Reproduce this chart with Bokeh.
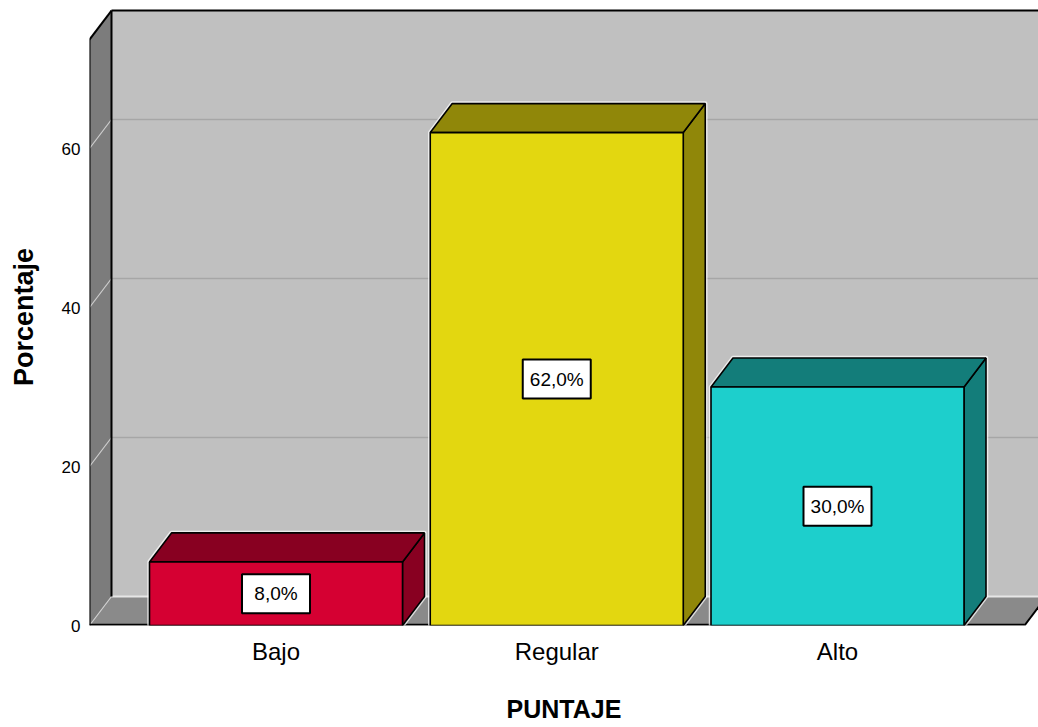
from bokeh.plotting import figure
from bokeh.models import Range1d, FixedTicker
from bokeh.core.properties import value
from bokeh.embed import file_html
from bokeh.resources import INLINE

# ---- data ----
categories = ["Bajo", "Regular", "Alto"]
percentages = [8.0, 62.0, 30.0]
front_colors = ["#D50032", "#E3D710", "#1DCFCC"]
dark_colors = ["#880021", "#908709", "#137D7A"]
y_ticks = [0, 20, 40, 60]

# ---- geometry (style constants) ----
PX_X = 280.75
PX_Y = 7.95
X_START = 0.3357
X_END = X_START + 949 / PX_X
Y_END = 617 / PX_Y
DX = 22 / PX_X
DY = 29 / PX_Y
BAR_W = 253 / PX_X
WALL_TOP = 73.7
FLOOR_END = X_START + 935 / PX_X

positions = list(range(1, len(categories) + 1))

p = figure(width=1038, height=727,
           x_range=Range1d(X_START, X_END), y_range=Range1d(0, Y_END),
           output_backend="svg", toolbar_location=None,
           min_border_left=89, min_border_right=0,
           min_border_top=8, min_border_bottom=102)
p.outline_line_color = None
p.background_fill_color = "white"
p.border_fill_color = "white"
p.xgrid.visible = False
p.ygrid.visible = False

# back wall
p.quad(left=[X_START + DX], right=[X_END + 1], bottom=[DY], top=[WALL_TOP + DY],
       fill_color="#C0C0C0", line_color=None)
# back wall grid lines
p.multi_line(xs=[[X_START + DX, X_END + 1] for v in y_ticks[1:]],
             ys=[[v + DY, v + DY] for v in y_ticks[1:]],
             line_color="#A6A6A6", line_width=1.5)
# left wall
p.patch(x=[X_START, X_START, X_START + DX, X_START + DX],
        y=[0, WALL_TOP, WALL_TOP + DY, DY],
        fill_color="#7C7C7C", line_color=None)
# floor
p.patch(x=[X_START, FLOOR_END, FLOOR_END + DX, X_START + DX],
        y=[0, 0, DY, DY],
        fill_color="#8A8A8A", line_color=None)
# left wall grid lines
p.multi_line(xs=[[X_START, X_START + DX] for v in y_ticks],
             ys=[[v, v + DY] for v in y_ticks],
             line_color="#CFCFCF", line_width=1.2)
# back wall/floor seam highlight
p.line(x=[X_START + DX, X_END + 1], y=[DY, DY], line_color="#E6E6E6", line_width=2)

# black edges
edges_x = [
    [X_START + DX, X_START + DX],
    [X_START + DX, X_END + 1],
    [X_START, X_START + DX],
    [X_START, X_START],
    [X_START, FLOOR_END],
    [FLOOR_END, FLOOR_END + DX],
]
edges_y = [
    [DY, WALL_TOP + DY],
    [WALL_TOP + DY, WALL_TOP + DY],
    [WALL_TOP, WALL_TOP + DY],
    [0, WALL_TOP],
    [0.1, 0.1],
    [0, DY],
]
p.multi_line(xs=edges_x, ys=edges_y, line_color="black", line_width=2)

# bars
halo_x, halo_y = [], []
front_x, front_y, top_x, top_y, side_x, side_y = [], [], [], [], [], []
for c, v in zip(positions, percentages):
    l, r = c - BAR_W / 2, c + BAR_W / 2
    halo_x.append([l, r, r + DX, r + DX, l + DX, l, l])
    halo_y.append([0, 0, DY, v + DY, v + DY, v, 0])
    front_x.append([l, r, r, l])
    front_y.append([0, 0, v, v])
    top_x.append([l, r, r + DX, l + DX])
    top_y.append([v, v, v + DY, v + DY])
    side_x.append([r, r + DX, r + DX, r])
    side_y.append([0, DY, v + DY, v])

p.patches(xs=halo_x, ys=halo_y, fill_color=None, line_color="white",
          line_width=4.5, line_alpha=0.7, line_join="round")
p.patches(xs=side_x, ys=side_y, fill_color=dark_colors, line_color="black", line_width=1.6)
p.patches(xs=top_x, ys=top_y, fill_color=dark_colors, line_color="black", line_width=1.6)
p.patches(xs=front_x, ys=front_y, fill_color=front_colors, line_color="black", line_width=1.6)

# value labels
label_y = [v / 2 for v in percentages]
label_text = [f"{v:.1f}".replace(".", ",") + "%" for v in percentages]
p.rect(x=positions, y=label_y, width=68, height=39,
       width_units="screen", height_units="screen",
       fill_color="white", line_color="black", line_width=2)
p.text(x=positions, y=label_y, text=label_text,
       text_align="center", text_baseline="middle",
       text_font=value("Liberation Sans"), text_font_size="19px",
       text_color="black")

# axes
p.yaxis.ticker = FixedTicker(ticks=y_ticks)
p.yaxis.axis_line_color = None
p.yaxis.major_tick_line_color = None
p.yaxis.minor_tick_line_color = None
p.yaxis.major_tick_in = 0
p.yaxis.major_tick_out = 0
p.yaxis.major_label_standoff = 9
p.yaxis.major_label_text_font = "Liberation Sans"
p.yaxis.major_label_text_font_size = "17px"
p.yaxis.major_label_text_color = "black"
p.yaxis.axis_label = "Porcentaje"
p.yaxis.axis_label_text_font = "Liberation Sans"
p.yaxis.axis_label_text_font_style = "bold"
p.yaxis.axis_label_text_font_size = "27px"
p.yaxis.axis_label_text_color = "black"
p.yaxis.axis_label_standoff = 20

p.xaxis.ticker = FixedTicker(ticks=positions)
p.xaxis.major_label_overrides = {pos: cat for pos, cat in zip(positions, categories)}
p.xaxis.axis_line_color = None
p.xaxis.major_tick_line_color = None
p.xaxis.minor_tick_line_color = None
p.xaxis.major_tick_in = 0
p.xaxis.major_tick_out = 0
p.xaxis.major_label_standoff = 12
p.xaxis.major_label_text_font = "Liberation Sans"
p.xaxis.major_label_text_font_size = "24px"
p.xaxis.major_label_text_color = "black"
p.xaxis.axis_label = "PUNTAJE"
p.xaxis.axis_label_text_font = "Liberation Sans"
p.xaxis.axis_label_text_font_style = "bold"
p.xaxis.axis_label_text_font_size = "25px"
p.xaxis.axis_label_text_color = "black"
p.xaxis.axis_label_standoff = 27

open("out.html", "w").write(file_html(p, INLINE))
